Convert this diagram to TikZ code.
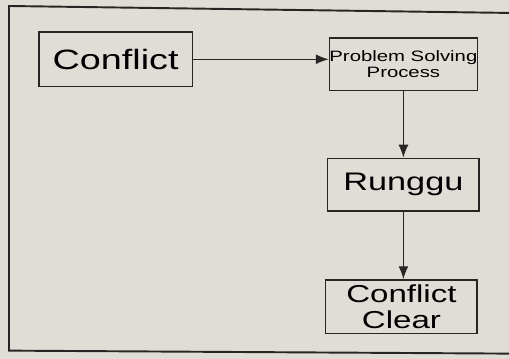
\documentclass[tikz,border=0pt]{standalone}
\usepackage{fontspec}
\usepackage{tikz}
\usetikzlibrary{arrows.meta}
\newfontfamily\boxfont[FakeStretch=1.35]{Liberation Sans}
\definecolor{paper}{RGB}{224,221,215}
\definecolor{ink}{RGB}{40,38,36}

\begin{document}
\begin{tikzpicture}[x=0.02cm,y=-0.02cm,
    box/.style={draw=ink,line width=0.8pt,fill=paper,align=center,inner sep=0pt},
    flow/.style={draw=ink,line width=0.8pt,-{Latex[length=2.6mm,width=2mm]}}]
        \fill [paper] (-1,-1) rectangle (510,359);
        \useasboundingbox (0,0) rectangle (509,358);
        % frame
        \draw [ink,line width=1.1pt] (512,12) -- (8,5) -- (8,351) -- (512,354);
        % boxes
        \node [box,minimum width=3.08cm,minimum height=1.1cm,
               font=\boxfont\fontsize{16}{17}\selectfont] (conflict) at (115,58.5) {Conflict};
        \node [box,minimum width=2.96cm,minimum height=1.06cm,
               font=\boxfont\fontsize{8.6}{9.5}\selectfont] (process) at (404,63.5) {Problem Solving\\Process};
        \node [box,minimum width=3.04cm,minimum height=1.06cm,
               font=\boxfont\fontsize{14.5}{15}\selectfont] (runggu) at (404,184.5) {Runggu};
        \node [box,minimum width=3.04cm,minimum height=1.08cm,
               font=\boxfont\fontsize{14}{15}\selectfont] (clear) at (402,307) {Conflict\\Clear};
        % arrows
        \draw [flow] (conflict) to (conflict -| process.west);
        \draw [flow] (process) to (runggu);
        \draw [flow] (runggu) to (runggu |- clear.north);
      \end{tikzpicture}
\end{document}
